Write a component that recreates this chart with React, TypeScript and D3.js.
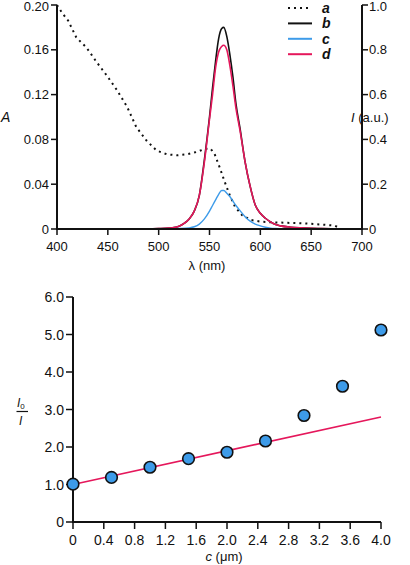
import React from "react";
import * as d3 from "d3";

// ---- Top panel data ----
const absLambda = [400, 405, 411, 419, 429, 439, 449, 459, 469, 478, 488, 498, 508, 518, 528, 537, 546, 551, 555, 560, 565, 570, 575, 582, 591, 601, 611, 627, 644, 660, 673, 678];
const absA = [0.2, 0.193, 0.186, 0.171, 0.162, 0.149, 0.137, 0.124, 0.109, 0.091, 0.079, 0.07, 0.0667, 0.0658, 0.0667, 0.0687, 0.0717, 0.0717, 0.067, 0.055, 0.042, 0.03, 0.02, 0.0124, 0.008, 0.0065, 0.006, 0.0055, 0.005, 0.004, 0.003, 0.001];

const emLambda = [400, 450, 480, 500, 510, 515, 520, 525, 530, 535, 540, 545, 550, 553, 556, 559, 562, 564, 567, 570, 573, 576, 580, 585, 590, 595, 600, 605, 610, 615, 620, 630, 640, 650, 660, 680];
const emB = [0, 0, 0, 0.002, 0.004, 0.006, 0.012, 0.025, 0.045, 0.08, 0.15, 0.31, 0.5, 0.63, 0.75, 0.85, 0.895, 0.9, 0.86, 0.78, 0.68, 0.56, 0.45, 0.3, 0.19, 0.107, 0.07, 0.048, 0.032, 0.02, 0.014, 0.008, 0.005, 0.003, 0.002, 0];
const emD = [0, 0, 0, 0.002, 0.004, 0.006, 0.012, 0.025, 0.045, 0.08, 0.15, 0.3, 0.49, 0.6, 0.72, 0.79, 0.815, 0.82, 0.8, 0.73, 0.64, 0.54, 0.44, 0.3, 0.19, 0.107, 0.07, 0.048, 0.032, 0.02, 0.014, 0.008, 0.005, 0.003, 0.002, 0];
const emCLambda = [500, 520, 530, 535, 540, 545, 550, 553, 556, 559, 562, 564, 567, 570, 573, 576, 580, 585, 590, 595, 600, 605, 610, 615, 625];
const emC = [0, 0.002, 0.005, 0.01, 0.022, 0.045, 0.08, 0.105, 0.13, 0.155, 0.172, 0.172, 0.16, 0.145, 0.125, 0.105, 0.082, 0.055, 0.035, 0.022, 0.014, 0.008, 0.004, 0.002, 0];

const xTicksTop = [400, 450, 500, 550, 600, 650, 700];
const yTicksLeft = [0, 0.04, 0.08, 0.12, 0.16, 0.2];
const yLabelsLeft = ["0", "0.04", "0.08", "0.12", "0.16", "0.20"];
const yTicksRight = [0, 0.2, 0.4, 0.6, 0.8, 1.0];
const yLabelsRight = ["0", "0.2", "0.4", "0.6", "0.8", "1.0"];
const legendNames = ["a", "b", "c", "d"];

// ---- Bottom panel data ----
const conc = [0, 0.5, 1.0, 1.5, 2.0, 2.5, 3.0, 3.5, 4.0];
const ratio = [1.01, 1.19, 1.46, 1.69, 1.86, 2.16, 2.84, 3.62, 5.12];
const fitX = [0, 4.0];
const fitY = [1.0, 2.8];
const xTicksBottom = [0, 0.4, 0.8, 1.2, 1.6, 2.0, 2.4, 2.8, 3.2, 3.6, 4.0];
const xLabelsBottom = ["0", "0.4", "0.8", "1.2", "1.6", "2.0", "2.4", "2.8", "3.2", "3.6", "4.0"];
const yTicksBottom = [0, 1, 2, 3, 4, 5, 6];
const yLabelsBottom = ["0", "1.0", "2.0", "3.0", "4.0", "5.0", "6.0"];

const FONT = "'Liberation Sans', Arial, Helvetica, sans-serif";
const BLUE = "#3d9be9";
const PINK = "#e5175b";

export default function App() {
  // top scales
  const xT = d3.scaleLinear().domain([400, 700]).range([57, 362]);
  const yL = d3.scaleLinear().domain([0, 0.2]).range([229, 5]);
  const yR = d3.scaleLinear().domain([0, 1]).range([229, 5]);

  const absLine = d3.line<number>().x((_, i) => xT(absLambda[i])).y((v) => yL(v));
  const emLine = (lams: number[]) => d3.line<number>().x((_, i) => xT(lams[i])).y((v) => yR(v)).curve(d3.curveMonotoneX);

  // bottom scales
  const xB = d3.scaleLinear().domain([0, 4]).range([73, 381]);
  const yB = d3.scaleLinear().domain([0, 6]).range([522, 297]);

  const legendStyles = [
    { stroke: "#111", dash: "2 4", w: 2 },
    { stroke: "#111", dash: null, w: 2 },
    { stroke: BLUE, dash: null, w: 2 },
    { stroke: PINK, dash: null, w: 2 },
  ];

  return (
    <svg width={410} height={565} style={{ position: "absolute", left: 0, top: 0, background: "#fff" }} fontFamily={FONT}>
      {/* ---------- TOP PANEL ---------- */}
      <path d={absLine(absA) || ""} fill="none" stroke="#111" strokeWidth={2} strokeDasharray="2 4" />
      <path d={emLine(emLambda)(emB) || ""} fill="none" stroke="#111" strokeWidth={1.6} />
      <path d={emLine(emCLambda)(emC) || ""} fill="none" stroke={BLUE} strokeWidth={1.4} />
      <path d={emLine(emLambda)(emD) || ""} fill="none" stroke={PINK} strokeWidth={1.6} />

      <line x1={xT(400)} x2={xT(700)} y1={yL(0)} y2={yL(0)} stroke="#111" strokeWidth={2} />
      <line x1={xT(400)} x2={xT(400)} y1={yL(0) + 1} y2={yL(0.2)} stroke="#111" strokeWidth={2} />
      <line x1={xT(700)} x2={xT(700)} y1={yR(0) + 1} y2={yR(1)} stroke="#111" strokeWidth={2} />

      {xTicksTop.map((t) => (
        <g key={"xt" + t}>
          <line x1={xT(t)} x2={xT(t)} y1={yL(0)} y2={yL(0) + 6} stroke="#111" strokeWidth={1.5} />
          <text x={xT(t)} y={251} textAnchor="middle" fontSize={13} fill="#111">{t}</text>
        </g>
      ))}
      {yTicksLeft.map((t, i) => (
        <g key={"yl" + t}>
          <line x1={xT(400) - 6} x2={xT(400)} y1={yL(t)} y2={yL(t)} stroke="#111" strokeWidth={1.5} />
          <text x={xT(400) - 8} y={Math.max(yL(t) + 4.5, 11)} textAnchor="end" fontSize={13} fill="#111">{yLabelsLeft[i]}</text>
        </g>
      ))}
      {yTicksRight.map((t, i) => (
        <g key={"yr" + t}>
          <line x1={xT(700)} x2={xT(700) + 6} y1={yR(t)} y2={yR(t)} stroke="#111" strokeWidth={1.5} />
          <text x={xT(700) + 7} y={Math.max(yR(t) + 4.5, 11)} textAnchor="start" fontSize={13} fill="#111">{yLabelsRight[i]}</text>
        </g>
      ))}
      <text x={207} y={270} textAnchor="middle" fontSize={13} fill="#111">λ (nm)</text>
      <text x={1} y={122} fontSize={14} fontStyle="italic" fill="#111">A</text>
      <text x={351} y={122} fontSize={13} fill="#111"><tspan fontStyle="italic">I</tspan> (a.u.)</text>

      {legendNames.map((n, i) => {
        const y = 8 + i * 15.4;
        const s = legendStyles[i];
        return (
          <g key={"lg" + n}>
            <line x1={288} x2={312} y1={y} y2={y} stroke={s.stroke} strokeWidth={s.w} strokeDasharray={s.dash || undefined} />
            <text x={322} y={y + 5} fontSize={14} fontWeight="bold" fontStyle="italic" fill="#111">{n}</text>
          </g>
        );
      })}

      {/* ---------- BOTTOM PANEL ---------- */}
      <line x1={xB(0)} x2={xB(4)} y1={yB(0)} y2={yB(0)} stroke="#111" strokeWidth={2} />
      <line x1={xB(0)} x2={xB(0)} y1={yB(0) + 1} y2={yB(6)} stroke="#111" strokeWidth={2} />
      {xTicksBottom.map((t, i) => (
        <g key={"xb" + i}>
          <line x1={xB(t)} x2={xB(t)} y1={yB(0)} y2={yB(0) + 7} stroke="#111" strokeWidth={1.5} />
          <text x={xB(t)} y={545} textAnchor="middle" fontSize={14} fill="#111">{xLabelsBottom[i]}</text>
        </g>
      ))}
      {yTicksBottom.map((t, i) => (
        <g key={"yb" + i}>
          <line x1={xB(0) - 7} x2={xB(0)} y1={yB(t)} y2={yB(t)} stroke="#111" strokeWidth={1.5} />
          <text x={xB(0) - 9} y={yB(t) + 5} textAnchor="end" fontSize={14} fill="#111">{yLabelsBottom[i]}</text>
        </g>
      ))}
      <line x1={xB(fitX[0])} y1={yB(fitY[0])} x2={xB(fitX[1])} y2={yB(fitY[1])} stroke={PINK} strokeWidth={1.6} />
      {conc.map((c, i) => (
        <circle key={"pt" + i} cx={xB(c)} cy={yB(ratio[i])} r={5.8} fill={BLUE} stroke="#111" strokeWidth={1.6} />
      ))}
      <text x={224} y={561} textAnchor="middle" fontSize={13} fill="#111"><tspan fontStyle="italic">c</tspan> (μm)</text>
      <text x={17} y={407} fontSize={12} fontStyle="italic" fill="#111">I<tspan fontSize={8} dy={2} fontStyle="normal">0</tspan></text>
      <line x1={16.5} x2={28} y1={411.5} y2={411.5} stroke="#111" strokeWidth={1.2} />
      <text x={19} y={425} fontSize={12} fontStyle="italic" fill="#111">I</text>
    </svg>
  );
}
